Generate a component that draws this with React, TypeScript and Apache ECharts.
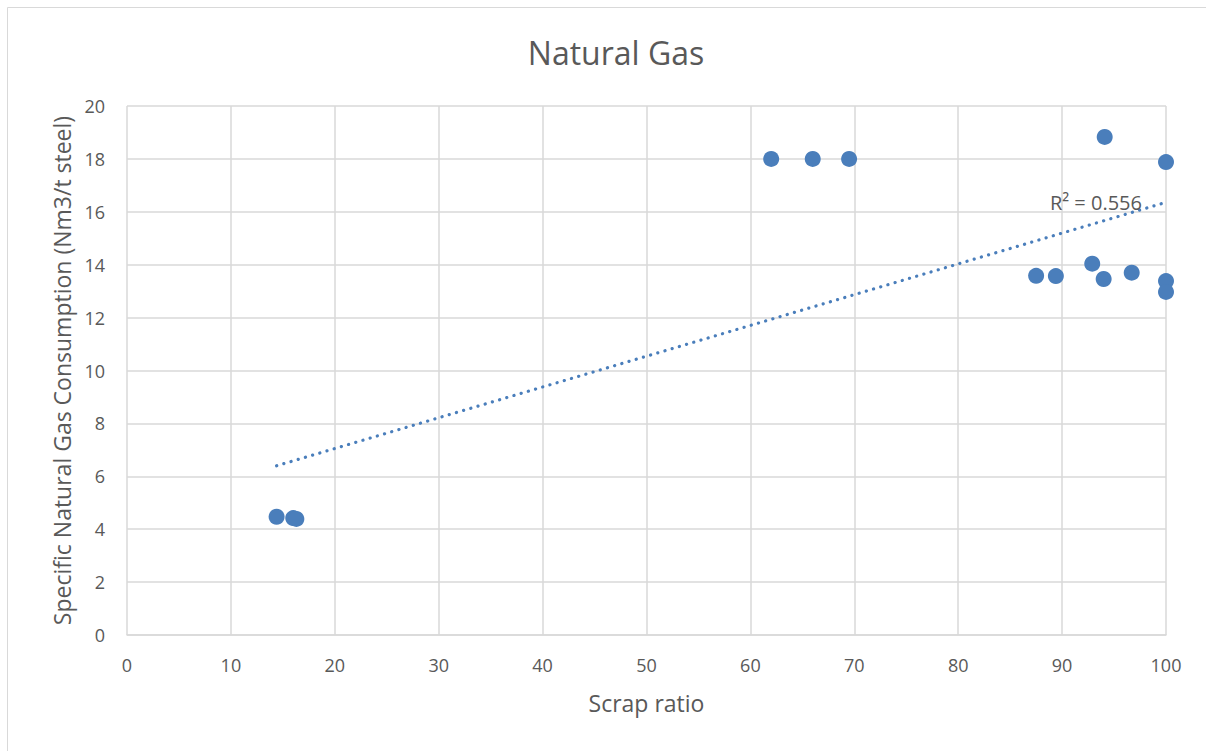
import React, { useEffect, useRef } from "react";
import * as echarts from "echarts";

const scrapRatio = [14.4, 16.0, 16.3, 62.0, 66.0, 69.5, 94.1, 100, 87.5, 89.4, 92.9, 94.0, 96.7, 100, 100];
const gasConsumption = [4.47, 4.42, 4.39, 18.0, 18.0, 18.0, 18.83, 17.88, 13.58, 13.57, 14.04, 13.46, 13.7, 13.38, 12.97];
const rSquaredLabel = "R² = 0.556";
const titleText = "Natural Gas";
const xAxisName = "Scrap ratio";
const yAxisName = "Specific Natural Gas Consumption (Nm3/t steel)";

const FONT = "'Open Sans', sans-serif";
const TEXT = "#595959";
const GRID = "#d9d9d9";
const BLUE = "#4a7ebb";

function linearFit(xs: number[], ys: number[]) {
  const n = xs.length;
  const mx = xs.reduce((a, b) => a + b, 0) / n;
  const my = ys.reduce((a, b) => a + b, 0) / n;
  let sxy = 0, sxx = 0;
  for (let i = 0; i < n; i++) {
    sxy += (xs[i] - mx) * (ys[i] - my);
    sxx += (xs[i] - mx) * (xs[i] - mx);
  }
  const slope = sxy / sxx;
  return { slope, intercept: my - slope * mx };
}

export default function App() {
  const ref = useRef<HTMLDivElement>(null);
  useEffect(() => {
    if (!ref.current) return;
    const chart = echarts.init(ref.current, undefined, { renderer: "svg" });
    const fit = linearFit(scrapRatio, gasConsumption);
    const xMin = Math.min(...scrapRatio);
    const xMax = Math.max(...scrapRatio);
    const trend = [
      [xMin, fit.intercept + fit.slope * xMin],
      [xMax, fit.intercept + fit.slope * xMax],
    ];
    chart.setOption({
      animation: false,
      graphic: [
        {
          type: "rect",
          shape: { x: 7.5, y: 7.5, width: 1220, height: 780 },
          style: { fill: "none", stroke: GRID, lineWidth: 1 },
          silent: true,
        },
      ],
      title: {
        text: titleText,
        left: 611,
        top: 31,
        textAlign: "center",
        textStyle: { fontFamily: FONT, fontSize: 32, fontWeight: "normal", color: TEXT },
      },
      grid: { left: 127, right: 40, top: 106, bottom: 116 },
      xAxis: {
        type: "value",
        min: 0,
        max: 100,
        interval: 10,
        name: xAxisName,
        nameLocation: "middle",
        nameGap: 56,
        nameTextStyle: { fontFamily: FONT, fontSize: 23, color: TEXT },
        axisLine: { show: true, lineStyle: { color: GRID, width: 1.5 } },
        axisTick: { show: false },
        axisLabel: { margin: 21, fontFamily: FONT, fontSize: 18, color: TEXT },
        splitLine: { show: true, lineStyle: { color: GRID, width: 1.5 } },
      },
      yAxis: {
        type: "value",
        min: 0,
        max: 20,
        interval: 2,
        name: yAxisName,
        nameLocation: "middle",
        nameGap: 52,
        nameTextStyle: { fontFamily: FONT, fontSize: 23, color: TEXT },
        axisLine: { show: false },
        axisTick: { show: false },
        axisLabel: { margin: 22, fontFamily: FONT, fontSize: 18, color: TEXT },
        splitLine: { show: true, lineStyle: { color: GRID, width: 1.5 } },
      },
      series: [
        {
          type: "line",
          data: trend,
          showSymbol: false,
          symbol: "none",
          lineStyle: { color: BLUE, width: 3.2, type: [0.1, 7.4], cap: "round" },
          markPoint: {
            symbol: "circle",
            symbolSize: 0,
            silent: true,
            data: [
              {
                coord: trend[1],
                label: {
                  show: true,
                  formatter: rSquaredLabel,
                  position: "left",
                  distance: 24,
                  fontFamily: FONT,
                  fontSize: 20,
                  color: TEXT,
                },
              },
            ],
          },
          z: 3,
          silent: true,
        },
        {
          type: "scatter",
          data: scrapRatio.map((x, i) => [x, gasConsumption[i]]),
          symbolSize: 16,
          itemStyle: { color: BLUE, opacity: 1 },
          z: 2,
        },
      ],
    });
    return () => chart.dispose();
  }, []);
  return (
    <div
      ref={ref}
      style={{ position: "fixed", left: 0, top: 0, width: 1206, height: 751, background: "#fff" }}
    />
  );
}
